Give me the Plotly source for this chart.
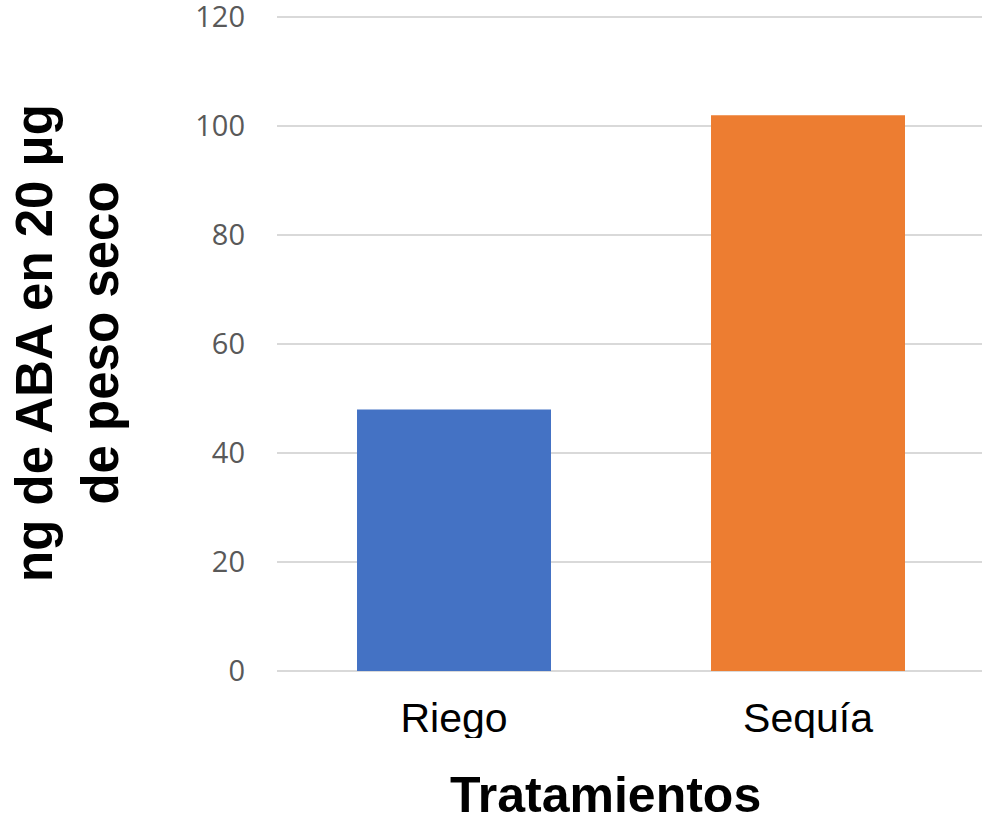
import plotly.graph_objects as go

# Data
categories = ["Riego", "Sequía"]
values = [48, 102]
colors = ["#4472C4", "#ED7D31"]
y_ticks = [0, 20, 40, 60, 80, 100, 120]

W, H = 982, 821
L, R, T, B = 277, 0, 15, 150
Y_MAX = 120.4

fig = go.Figure(
    go.Bar(
        x=categories,
        y=values,
        marker=dict(color=colors, line=dict(width=0)),
        width=0.548,
        hoverinfo="x+y",
    )
)

fig.update_layout(
    width=W,
    height=H,
    margin=dict(l=L, r=R, t=T, b=B, pad=0, autoexpand=False),
    plot_bgcolor="white",
    paper_bgcolor="white",
    showlegend=False,
)

fig.update_xaxes(
    range=[-0.5, 1.4915],
    showgrid=False,
    showline=False,
    zeroline=False,
    ticks="",
    tickfont=dict(family="Liberation Sans, Arial", size=41, color="#000000"),
    ticklabelstandoff=19,
    automargin=False,
)

fig.update_yaxes(
    range=[0, Y_MAX],
    tickvals=y_ticks,
    ticktext=[str(v) for v in y_ticks],
    showgrid=True,
    gridcolor="#D9D9D9",
    gridwidth=1.5,
    zeroline=True,
    zerolinecolor="#D9D9D9",
    zerolinewidth=1.5,
    showline=False,
    ticks="",
    tickfont=dict(family="Open Sans", size=29, color="#595959"),
    ticklabelstandoff=31,
    ticklabeloverflow="allow",
    automargin=False,
)

plot_w = W - L - R
plot_h = H - T - B

# Axis titles
fig.add_annotation(
    text="<b>ng de ABA en 20 μg<br>de peso seco</b>",
    textangle=-90,
    xref="paper", yref="paper",
    x=(67 - L) / plot_w, y=0.5,
    xanchor="center", yanchor="middle",
    showarrow=False,
    font=dict(family="Liberation Sans, Arial", size=51, color="#000000"),
)
fig.add_annotation(
    text="<b>Tratamientos</b>",
    xref="paper", yref="paper",
    x=(605 - L) / plot_w, y=(H - B - 795) / plot_h,
    xanchor="center", yanchor="middle",
    showarrow=False,
    font=dict(family="Liberation Sans, Arial", size=50, color="#000000"),
)

# Mask the lower edge of the category labels
fig.add_shape(
    type="rect",
    xref="paper", yref="paper",
    x0=0.05, x1=0.95,
    y0=(H - B - 738) / plot_h, y1=(H - B - 752) / plot_h,
    fillcolor="white", line=dict(width=0), layer="above",
)

fig.write_html("out.html")
